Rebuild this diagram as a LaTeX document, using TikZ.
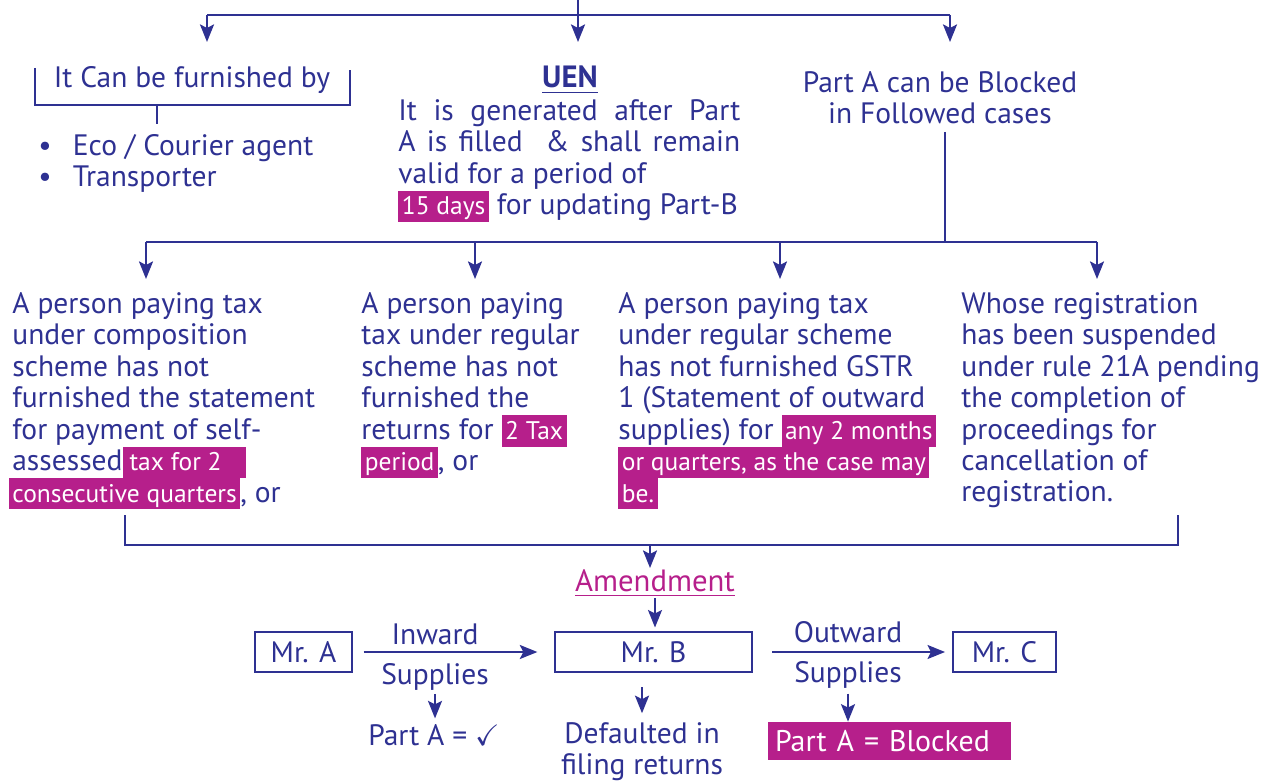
\documentclass[tikz,border=0pt]{standalone}
\usepackage{amssymb}
\usepackage{fontspec}
\setmainfont{PT Sans}
\usetikzlibrary{arrows.meta,positioning}
\definecolor{flowblue}{HTML}{2E3192}
\definecolor{flowmagenta}{HTML}{B61F8B}
\newcommand{\bodyfont}{\fontsize{16.8}{17.9}\selectfont}
\newcommand{\hlpart}[1]{{\setlength{\fboxsep}{0pt}\colorbox{flowmagenta}{\rule[-4.2pt]{0pt}{17.8pt}\hspace{2pt}\textcolor{white}{\fontsize{14.5}{17.9}\selectfont #1}\hspace{2pt}}}}
\tikzset{
  plaintext/.style={text=flowblue, font=\bodyfont, inner sep=0pt, align=left},
  casetext/.style={plaintext, anchor=north west},
  conn/.style={draw=flowblue, line width=1.1pt},
  arr/.style={conn, -{Stealth[length=10pt, width=8pt, inset=2pt]}},
  personbox/.style={draw=flowblue, line width=1.1pt, text=flowblue, font=\bodyfont, inner sep=0pt},
  blockbox/.style={fill=flowmagenta, text=white, font=\fontsize{17}{18}\selectfont, inner ysep=0pt, inner xsep=4pt, align=left}
}
\begin{document}
\begin{tikzpicture}[x=0.02cm, y=-0.02cm]
  \useasboundingbox (0,0) rectangle (1273,783);
  % top level
  \coordinate (root) at (578,0);
  \coordinate (topbus) at (578,15);
  \coordinate (furnin) at (207,42);
  \coordinate (uenin) at (578,42);
  \coordinate (blockin) at (950,42);
  \draw[conn] (furnin |- topbus) -- (blockin |- topbus);
  \draw[arr] (root) -- (uenin);
  \draw[arr] (furnin |- topbus) -- (furnin);
  \draw[arr] (blockin |- topbus) -- (blockin);

  \node[plaintext, anchor=base] (furn) at (192,88) {It Can be furnished by};
  \draw[conn] (35,68) |- (350,105) -- (350,70);
  \draw[conn] (157,105) -- (157,124);
  \node[casetext] (agents) at (38,134) {\textbullet\hspace{12pt}Eco / Courier agent\\ \textbullet\hspace{12pt}Transporter};

  \node[plaintext, anchor=base, font=\fontsize{17.5}{18}\selectfont\bfseries] (uen) at (570,88) {\underline{UEN}};
  \node[casetext] (uenbody) at (398,99) {\makebox[6.84cm][s]{It is generated after Part}\\
    \makebox[6.84cm][s]{A is filled \ \& shall remain}\\
    valid for a period of\\
    \hlpart{15 days} for updating Part-B};

  \node[plaintext, anchor=north, align=center] (blocked) at (940,71) {Part A can be Blocked\\in Followed cases};

  % cases
  \coordinate (blockout) at (945,132);
  \coordinate (midbus) at (945,242);
  \coordinate (c1in) at (146,279);
  \coordinate (c2in) at (475,279);
  \coordinate (c3in) at (780,279);
  \coordinate (c4in) at (1097,279);
  \draw[conn] (blockout) -- (midbus);
  \draw[conn] (c1in |- midbus) -- (c4in |- midbus);
  \foreach \c in {c1in,c2in,c3in,c4in}
    \draw[arr] (\c |- midbus) -- (\c);

  \node[casetext] (case1) at (12,292) {A person paying tax\\
    under composition\\
    scheme has not\\
    furnished the statement\\
    for payment of self-\\
    assessed\hlpart{\hspace{2pt}tax for 2\hspace{12pt}}\\
    \hspace{-2pt}\hlpart{consecutive quarters}, or};
  \node[casetext] (case2) at (361,292) {A person paying\\
    tax under regular\\
    scheme has not\\
    furnished the\\
    returns for \hlpart{2 Tax}\\
    \hlpart{period}, or};
  \node[casetext] (case3) at (618,292) {A person paying tax\\
    under regular scheme\\
    has not furnished GSTR\\
    1 (Statement of outward\\
    supplies) for \hlpart{any 2 months}\\
    \hlpart{or quarters, as the case may}\\
    \hlpart{be.}};
  \node[casetext] (case4) at (961,292) {Whose registration\\
    has been suspended\\
    under rule 21A pending\\
    the completion of\\
    proceedings for\\
    cancellation of\\
    registration.};

  % amendment chain
  \coordinate (c1out) at (125,515);
  \coordinate (c4out) at (1178,515);
  \coordinate (lowbus) at (650,545);
  \coordinate (amendin) at (650,568);
  \draw[conn] (c1out) |- (lowbus) -| (c4out);
  \draw[arr] (lowbus) -- (amendin);
  \node[plaintext, anchor=base, text=flowmagenta, font=\fontsize{17.5}{18}\selectfont] (amend) at (655,591) {\underline{Amendment}};

  \node[personbox, minimum width=1.94cm, minimum height=0.8cm] (mra) at (303.5,652) {Mr. A};
  \node[personbox, minimum width=3.94cm, minimum height=0.8cm] (mrb) at (653.5,652) {Mr. B};
  \node[personbox, minimum width=2.06cm, minimum height=0.8cm] (mrc) at (1004.5,652) {Mr. C};
  \draw[arr, shorten >=2pt] (amend.south) -- (amend.south |- mrb.north);

  \draw[arr, shorten <=6pt, shorten >=9.5pt] (mra.east) -- (mrb.west);
  \node[plaintext, anchor=base] (inw) at (435,644) {Inward};
  \node[plaintext, anchor=base] (inwsup) at (435,684) {Supplies};
  \node[plaintext, anchor=base] (partok) at (434,745) {Part A = $\checkmark$};
  \draw[arr, shorten <=2pt, shorten >=3pt] (inwsup.south) -- (inwsup.south |- partok.north);

  \node[plaintext, anchor=north, align=center] (dflt) at (642,722) {Defaulted in\\filing returns};
  \draw[arr, shorten <=8pt, shorten >=5pt] (mrb.south -| dflt.north) -- (dflt.north);

  \draw[arr, shorten <=11pt, shorten >=4pt] (mrb.east) -- (mrc.west);
  \node[plaintext, anchor=base] (outw) at (848,642) {Outward};
  \node[plaintext, anchor=base] (outsup) at (848,682) {Supplies};
  \node[blockbox, text width=4.58cm, minimum height=0.76cm] (partblk) at (889.5,741) {Part A = Blocked};
  \draw[arr, shorten <=3pt] (outsup.south) -- (outsup.south |- partblk.north);
\end{tikzpicture}
\end{document}
